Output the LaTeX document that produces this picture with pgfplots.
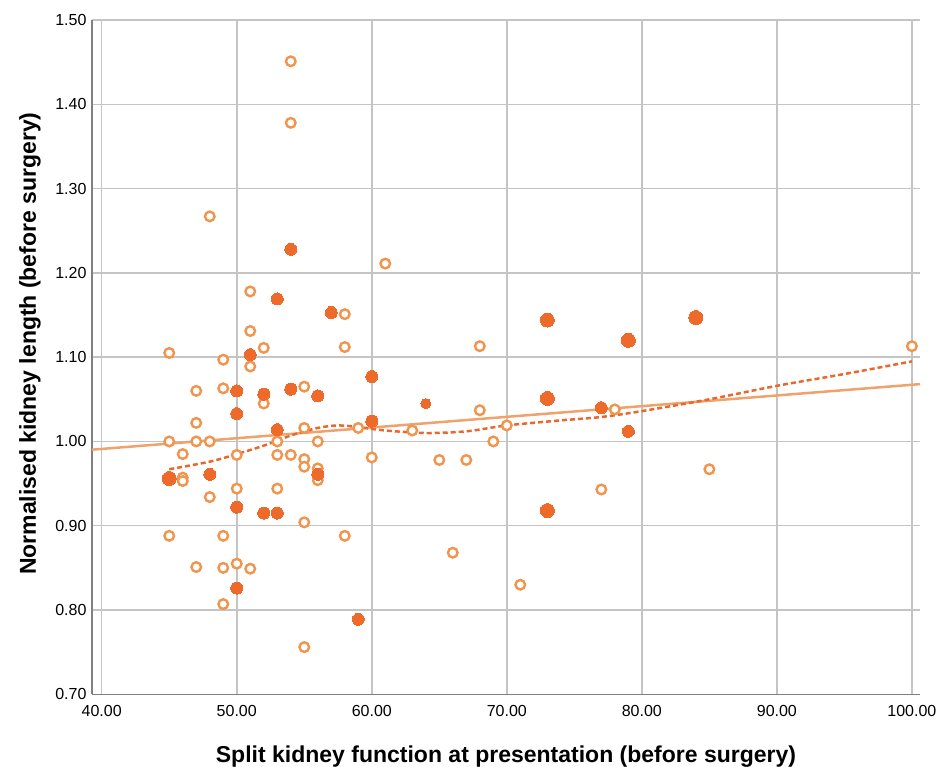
\documentclass[border=0pt]{standalone}
\usepackage{fontspec}
\setmainfont{Liberation Sans}
\usepackage{pgfplots}
\pgfplotsset{compat=1.18}

\definecolor{openpt}{HTML}{F0944E}
\definecolor{fillpt}{HTML}{EE6A2A}
\definecolor{fitline}{HTML}{EFA26C}
\definecolor{loessline}{HTML}{E8692E}
\definecolor{gridgray}{HTML}{C4C4C4}
\definecolor{axisgray}{HTML}{808080}

\begin{document}
\begin{tikzpicture}
\begin{axis}[
  scale only axis,
  width=828bp, height=674.3bp,
  xmin=39.28, xmax=100.6,
  ymin=0.70, ymax=1.50,
  xtick={40,50,...,100},
  ytick={0.7,0.8,...,1.5},
  axis x line*=bottom,
  axis y line*=left,
  axis line style={axisgray, line width=1.5bp},
  grid=major,
  major grid style={gridgray, line width=1.5bp},
  major tick length=0pt,
  /pgf/number format/assume math mode=true,
  /pgf/number format/.cd, fixed, fixed zerofill, precision=2, /pgfplots/.cd,
  ticklabel style={font=\fontsize{16bp}{19bp}\selectfont},
  xticklabel style={yshift=-8bp},
  yticklabel style={xshift=-2bp},
  xlabel={Split kidney function at presentation (before surgery)},
  ylabel={Normalised kidney length (before surgery)},
  every axis x label/.style={at={(axis description cs:0.5,-0.1004)}, anchor=base,
    font=\bfseries\fontsize{23bp}{27bp}\selectfont},
  every axis y label/.style={at={(axis description cs:-0.0679,0.52)}, anchor=base,
    rotate=90, font=\bfseries\fontsize{23bp}{27bp}\selectfont},
  clip=false,
]

% open circles
\addplot[only marks, color=openpt, mark=*, mark size=4.8bp,
  mark options={draw=openpt, fill=white, line width=2.4bp}] coordinates {
(54,1.451) (54,1.378) (48,1.267) (61,1.211) (51,1.178) (58,1.151) (51,1.131)
(52,1.111) (58,1.112) (68,1.113) (100,1.113) (45,1.105) (49,1.097) (51,1.089)
(55,1.065) (47,1.060) (49,1.063) (52,1.045) (78,1.038) (68,1.037) (47,1.022)
(45,1.000) (47,1.000) (48,1.000) (53,1.000) (56,1.000) (55,1.016) (59,1.016)
(63,1.013) (70,1.019) (69,1.000) (46,0.985) (50,0.984) (53,0.984) (54,0.984)
(55,0.979) (55,0.970) (56,0.968) (56,0.954) (60,0.981) (65,0.978) (67,0.978)
(85,0.967) (46,0.957) (46,0.953) (50,0.944) (53,0.944) (48,0.934) (77,0.943)
(45,0.888) (49,0.888) (55,0.904) (58,0.888) (66,0.868) (47,0.851) (49,0.850)
(50,0.855) (51,0.849) (71,0.830) (49,0.807) (55,0.756)
};

% filled circles
\addplot[only marks, color=fillpt, mark=*, mark size=6bp,
  mark options={draw=fillpt, fill=fillpt, line width=0pt}] coordinates {
(54,1.228) (53,1.169) (57,1.153) (51,1.103) (50,1.060) (54,1.062) (52,1.056)
(56,1.054) (60,1.077) (77,1.040) (50,1.033) (53,1.014) (60,1.024) (79,1.012)
(56,0.961) (48,0.961) (50,0.922) (52,0.915) (53,0.915) (50,0.826) (59,0.789)
};
\addplot[only marks, color=fillpt, mark=*, mark size=5bp,
  mark options={draw=fillpt, fill=fillpt, line width=0pt}] coordinates {(64,1.045)};
\addplot[only marks, color=fillpt, mark=*, mark size=7bp,
  mark options={draw=fillpt, fill=fillpt, line width=0pt}] coordinates {
(73,1.144) (79,1.120) (84,1.147) (73,1.051) (45,0.956) (73,0.918)
};

% linear fit
\addplot[fitline, line width=2.5bp, no marks] coordinates {(39.28,0.9902) (100.6,1.068)};

% loess curve
\addplot[loessline, line width=2.5bp, no marks, smooth, dash pattern=on 5bp off 3bp] coordinates {
(45,0.967) (48,0.976) (50,0.985) (52,0.995) (54,1.007) (56,1.016) (57.5,1.019)
(59,1.017) (61,1.013) (64,1.010) (67,1.012) (70,1.019) (74,1.025) (77,1.029)
(80,1.036) (85,1.050) (90,1.066) (95,1.080) (100,1.095)
};
\end{axis}
\pgfresetboundingbox
\path (-92bp,-72.7bp) rectangle (844bp,694.3bp);
\end{tikzpicture}
\end{document}
